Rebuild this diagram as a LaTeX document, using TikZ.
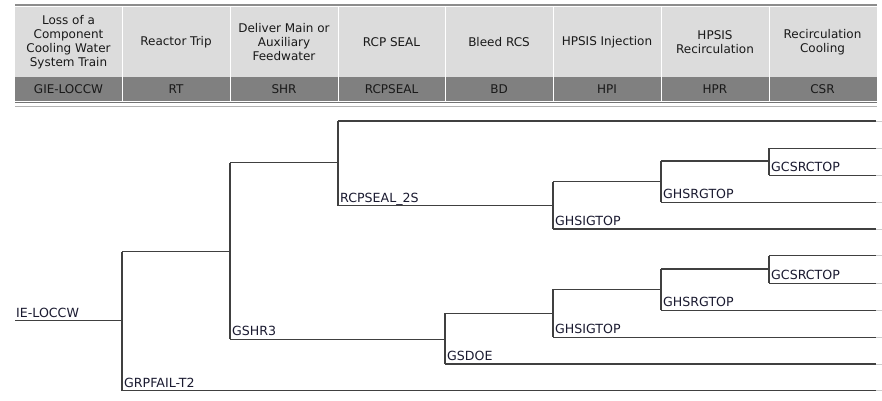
\documentclass[tikz,border=0pt]{standalone}
\usepackage{fontspec}
\setmainfont{DejaVu Sans}
\definecolor{hdrlight}{HTML}{DCDCDC}
\definecolor{hdrdark}{HTML}{808080}
\definecolor{treeline}{HTML}{404040}
\definecolor{labeltext}{HTML}{1A1A30}
\begin{document}
\begin{tikzpicture}[x=1pt,y=-1pt,
  branch/.style={draw=treeline,line width=1.4pt},
  lbl/.style={anchor=base west,inner sep=0pt,font=\fontsize{12.6}{13}\selectfont,text=labeltext},
  htext/.style={align=center,inner sep=0pt,font=\fontsize{12}{14}\selectfont,text=black!90},
  hcode/.style={inner sep=0pt,font=\fontsize{12}{13}\selectfont,text=black!90},
  stub/.style={draw=black!20,line width=1pt}]
\useasboundingbox (0,0) rectangle (882,400);
\fill[white] (0,0) rectangle (882,400);
% header
\draw[black!45,line width=1.2pt] (15,5) -- (877,5);
\fill[hdrlight] (15,7) rectangle (877,77);
\fill[hdrdark] (15,77) rectangle (877,101);
\draw[black!55,line width=1.5pt] (15,102.5) -- (877,102.5);
\draw[black!30,line width=1pt] (15,106.5) -- (877,106.5);
\foreach \x in {122,230,338,445,553,661,769}{
  \draw[white,line width=0.8pt] (\x,7) -- (\x,101);
}
\node[htext] (h1) at (68.5,42) {Loss of a\\Component\\Cooling Water\\System Train};
\node[htext] (h2) at (176,42) {Reactor Trip};
\node[htext] (h3) at (284,42) {Deliver Main or\\Auxiliary\\Feedwater};
\node[htext] (h4) at (391.5,42) {RCP SEAL};
\node[htext] (h5) at (499,42) {Bleed RCS};
\node[htext] (h6) at (607,42) {HPSIS Injection};
\node[htext] (h7) at (715,42) {HPSIS\\Recirculation};
\node[htext] (h8) at (822.5,42) {Recirculation\\Cooling};
\node[hcode] (c1) at (68.5,89) {GIE-LOCCW};
\node[hcode] (c2) at (176,89) {RT};
\node[hcode] (c3) at (284,89) {SHR};
\node[hcode] (c4) at (391.5,89) {RCPSEAL};
\node[hcode] (c5) at (499,89) {BD};
\node[hcode] (c6) at (607,89) {HPI};
\node[hcode] (c7) at (715,89) {HPR};
\node[hcode] (c8) at (822.5,89) {CSR};
% tree coordinates
\coordinate (ie0) at (15,320.7);
\coordinate (ie1) at (122,320.7);
\coordinate (rtT) at (122,251.7);
\coordinate (rtB) at (122,390.7);
\coordinate (shT) at (230,251.7);
\coordinate (shTop) at (230,162.7);
\coordinate (shBot) at (230,339.3);
\coordinate (rcT) at (338,162.7);
\coordinate (rcTop) at (338,121);
\coordinate (rcBot) at (338,205.7);
\coordinate (ua) at (553,205.7);
\coordinate (uaT) at (553,181.7);
\coordinate (uaB) at (553,229);
\coordinate (ub) at (661,181.7);
\coordinate (ubT) at (661,161);
\coordinate (ubB) at (661,202.3);
\coordinate (uc) at (769,161);
\coordinate (ucT) at (769,148.3);
\coordinate (ucB) at (769,175.3);
\coordinate (ld) at (445,339.3);
\coordinate (ldT) at (445,313.3);
\coordinate (ldB) at (445,364);
\coordinate (la) at (553,313.3);
\coordinate (laT) at (553,289.3);
\coordinate (laB) at (553,337.3);
\coordinate (lb) at (661,289.3);
\coordinate (lbT) at (661,269);
\coordinate (lbB) at (661,310.3);
\coordinate (lc) at (769,269);
\coordinate (lcT) at (769,255.7);
\coordinate (lcB) at (769,283.3);
% end points
\foreach \n/\y in {e1/121,e2/148.3,e3/175.3,e4/202.3,e5/229,e6/255.7,e7/283.3,e8/310.3,e9/337.3,e10/364,e11/390.7}{
  \coordinate (\n) at (876,\y);
  \coordinate (\n s) at (882,\y);
  \draw[stub] (\n) -- (\n s);
}
% branches
\draw[branch] (ie0) -- (ie1);
\draw[branch] (rtT) -- (rtB);
\draw[branch] (rtT) -- (shT);
\draw[branch] (rtB) -- (e11);
\draw[branch] (shTop) -- (shBot);
\draw[branch] (shTop) -- (rcT);
\draw[branch] (shBot) -- (ld);
\draw[branch] (rcTop) -- (rcBot);
\draw[branch] (rcTop) -- (e1);
\draw[branch] (rcBot) -- (ua);
\draw[branch] (uaT) -- (uaB);
\draw[branch] (uaT) -- (ub);
\draw[branch] (uaB) -- (e5);
\draw[branch] (ubT) -- (ubB);
\draw[branch] (ubT) -- (uc);
\draw[branch] (ubB) -- (e4);
\draw[branch] (ucT) -- (ucB);
\draw[branch] (ucT) -- (e2);
\draw[branch] (ucB) -- (e3);
\draw[branch] (ldT) -- (ldB);
\draw[branch] (ldT) -- (la);
\draw[branch] (ldB) -- (e10);
\draw[branch] (laT) -- (laB);
\draw[branch] (laT) -- (lb);
\draw[branch] (laB) -- (e9);
\draw[branch] (lbT) -- (lbB);
\draw[branch] (lbT) -- (lc);
\draw[branch] (lbB) -- (e8);
\draw[branch] (lcT) -- (lcB);
\draw[branch] (lcT) -- (e6);
\draw[branch] (lcB) -- (e7);
% labels
\node[lbl] (l1) at (16,317) {IE-LOCCW};
\node[lbl] (l2) at (124,387) {GRPFAIL-T2};
\node[lbl] (l3) at (232,335.6) {GSHR3};
\node[lbl] (l4) at (340,202) {RCPSEAL\_2S};
\node[lbl] (l5) at (555,225.3) {GHSIGTOP};
\node[lbl] (l6) at (663,198.6) {GHSRGTOP};
\node[lbl] (l7) at (771,171.6) {GCSRCTOP};
\node[lbl] (l8) at (447,360.3) {GSDOE};
\node[lbl] (l9) at (555,333.6) {GHSIGTOP};
\node[lbl] (l10) at (663,306.6) {GHSRGTOP};
\node[lbl] (l11) at (771,279.6) {GCSRCTOP};
\end{tikzpicture}
\end{document}
